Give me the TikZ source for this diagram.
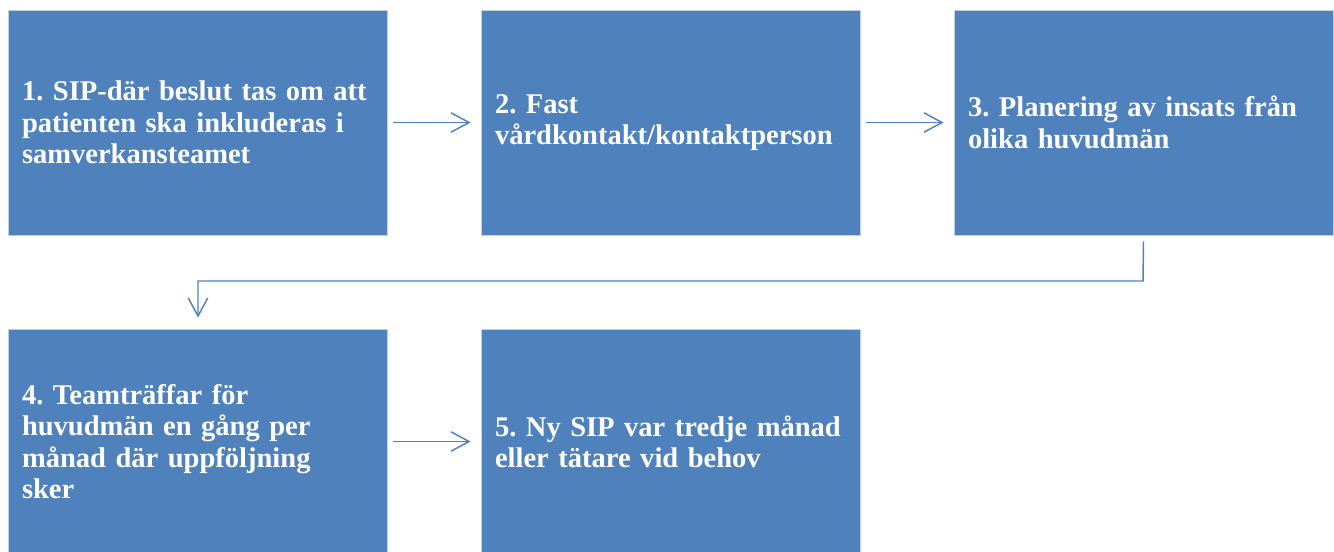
\documentclass[tikz,border=0pt]{standalone}
\usepackage{fontspec}
\setmainfont{Liberation Serif}
\usetikzlibrary{arrows.meta}
\definecolor{boxblue}{HTML}{4F81BD}
\definecolor{boxedge}{HTML}{BCD0E8}
\frenchspacing
\begin{document}
\begin{tikzpicture}[x=0.75pt,y=-0.75pt,
  stepbox/.style={rectangle, fill=boxblue, draw=boxedge, line width=0.6pt,
    minimum width=284.25pt, minimum height=168.75pt, inner xsep=10.5pt,
    text width=263.25pt, align=left, text=white,
    font=\fontsize{21.4}{23.5}\selectfont\bfseries\frenchspacing},
  flow/.style={draw=boxblue, line width=1.1pt,
    -{Straight Barb[length=13.5pt,width=14.5pt,line width=1.1pt]}}]
\useasboundingbox (0,0) rectangle (1334,551);
\node[stepbox] (b1) at (197.5,122.5) {1. SIP-där beslut tas om att\\patienten ska inkluderas i\\samverkansteamet};
\node[stepbox] (b2) at (670.5,122.5) {2. Fast\\vårdkontakt/kontaktperson};
\node[stepbox] (b3) at (1143.5,122.5) {3. Planering av insats från\\olika huvudmän};
\node[stepbox] (b4) at (197.5,441.5) {4. Teamträffar för\\huvudmän en gång per\\månad där uppföljning\\sker};
\node[stepbox] (b5) at (670.5,441.5) {5. Ny SIP var tredje månad\\eller tätare vid behov};
\draw[flow] ([xshift=4.5pt]b1.east) -- ([xshift=-7.5pt]b2.west);
\draw[flow] ([xshift=4.5pt]b2.east) -- ([xshift=-7.5pt]b3.west);
\draw[flow] ([xshift=4.5pt]b4.east) -- ([xshift=-7.5pt]b5.west);
\coordinate (c1) at (1143,281);
\coordinate (c2) at (198,281);
\draw[flow] ([yshift=-4.5pt]b3.south) -- (c1) -- (c2) -- ([yshift=8.25pt]b4.north -| c2);
\end{tikzpicture}
\end{document}
